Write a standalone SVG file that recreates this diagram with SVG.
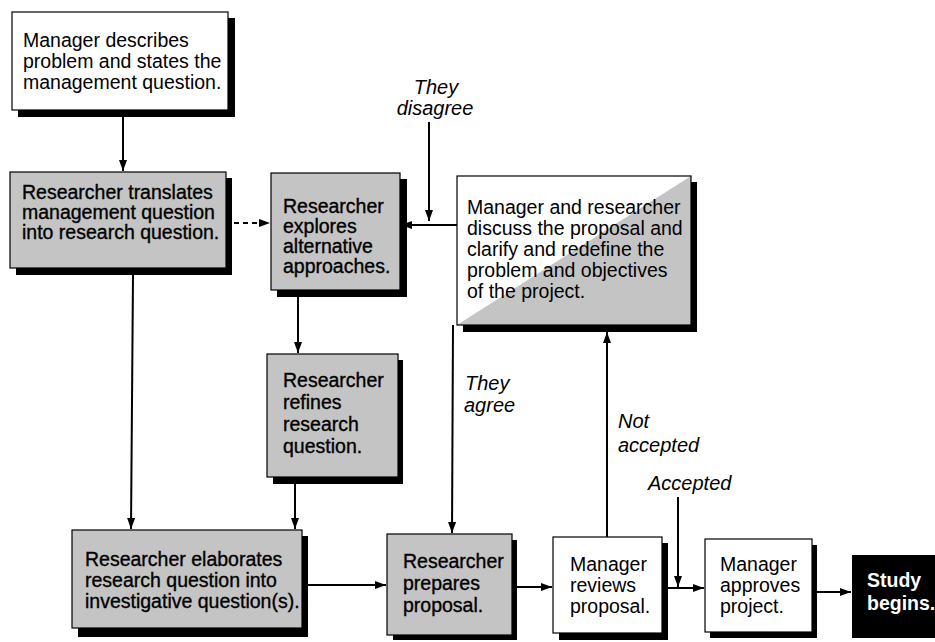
<svg xmlns="http://www.w3.org/2000/svg" width="935" height="642" viewBox="0 0 935 642">
<defs>
<marker id="ah" viewBox="0 0 11 8" refX="11" refY="4" markerWidth="11" markerHeight="8" markerUnits="userSpaceOnUse" orient="auto">
<path d="M0,0 L11,4 L0,8 Z" fill="#000"/>
</marker>
</defs>
<style>
.box{stroke:#000;stroke-width:1.2}
.w{fill:#fff}
.g{fill:#c4c4c4}
.sh{fill:#000}
text{font-family:"Liberation Sans",Arial,sans-serif;font-size:19.5px;fill:#000}
.gt{stroke:#000;stroke-width:0.35}
.lbl{font-style:italic;font-size:20px}
.bw{fill:#fff;font-weight:bold}
.c line{stroke:#000;stroke-width:2;fill:none}
.dash{stroke-dasharray:5 4}
</style>
<rect width="935" height="642" fill="#fff"/>

<g id="n1">
<rect class="sh" x="18" y="18" width="217" height="99"/>
<rect class="box w" x="12" y="12" width="216" height="98"/>
<text x="23" y="47">Manager describes</text>
<text x="23" y="68">problem and states the</text>
<text x="23" y="89">management question.</text>
</g>

<g id="n2">
<rect class="sh" x="16" y="178" width="216" height="97"/>
<rect class="box g" x="10" y="172" width="216" height="96"/>
<text class="gt" x="22" y="199">Researcher translates</text>
<text class="gt" x="22" y="219">management question</text>
<text class="gt" x="22" y="239">into research question.</text>
</g>

<g id="n3">
<rect class="sh" x="277" y="179" width="130" height="118"/>
<rect class="box g" x="271" y="173" width="129" height="117"/>
<text class="gt" x="283" y="213">Researcher</text>
<text class="gt" x="283" y="233">explores</text>
<text class="gt" x="283" y="253">alternative</text>
<text class="gt" x="283" y="273">approaches.</text>
</g>

<g id="n4">
<rect class="sh" x="463" y="182" width="234" height="150"/>
<rect class="w" x="457" y="176" width="234" height="149"/>
<polygon class="g" points="457,325 691,176 691,325"/>
<rect class="box" x="457" y="176" width="234" height="149" fill="none"/>
<text x="467" y="214">Manager and researcher</text>
<text x="467" y="235">discuss the proposal and</text>
<text x="467" y="256">clarify and redefine the</text>
<text x="467" y="277">problem and objectives</text>
<text x="467" y="298">of the project.</text>
</g>

<g id="n5">
<rect class="sh" x="273" y="360" width="130" height="124"/>
<rect class="box g" x="267" y="354" width="131" height="123"/>
<text class="gt" x="283" y="387">Researcher</text>
<text class="gt" x="283" y="409">refines</text>
<text class="gt" x="283" y="431">research</text>
<text class="gt" x="283" y="453">question.</text>
</g>

<g id="n6">
<rect class="sh" x="78" y="536" width="230" height="101"/>
<rect class="box g" x="72" y="530" width="230" height="98"/>
<text class="gt" x="85" y="566">Researcher elaborates</text>
<text class="gt" x="85" y="587">research question into</text>
<text class="gt" x="85" y="608">investigative question(s).</text>
</g>

<g id="n7">
<rect class="sh" x="393" y="540" width="124" height="100"/>
<rect class="box g" x="387" y="534" width="125" height="101"/>
<text class="gt" x="403" y="568">Researcher</text>
<text class="gt" x="403" y="590">prepares</text>
<text class="gt" x="403" y="612">proposal.</text>
</g>

<g id="n8">
<rect class="sh" x="559" y="543" width="109" height="97"/>
<rect class="box w" x="553" y="537" width="109" height="96"/>
<text x="570" y="571">Manager</text>
<text x="570" y="592">reviews</text>
<text x="570" y="613">proposal.</text>
</g>

<g id="n9">
<rect class="sh" x="710" y="545" width="107" height="93"/>
<rect class="box w" x="705" y="539" width="107" height="93"/>
<text x="720" y="571">Manager</text>
<text x="720" y="592">approves</text>
<text x="720" y="613">project.</text>
</g>

<g id="n10">
<rect class="sh" x="852" y="555" width="83" height="83"/>
<text class="bw" x="867" y="587">Study</text>
<text class="bw" x="867" y="610">begins.</text>
</g>

<g id="connectors" class="c">
<line x1="123" y1="117" x2="123" y2="171" marker-end="url(#ah)"/>
<line class="dash" x1="234" y1="223" x2="270" y2="223" marker-end="url(#ah)"/>
<line x1="457" y1="225" x2="401" y2="225" marker-end="url(#ah)"/>
<line x1="429" y1="122" x2="429" y2="221" marker-end="url(#ah)"/>
<line x1="298" y1="297" x2="298" y2="353" marker-end="url(#ah)"/>
<line x1="295" y1="484" x2="295" y2="529" marker-end="url(#ah)"/>
<line x1="133" y1="275" x2="131" y2="529" marker-end="url(#ah)"/>
<line x1="308" y1="585" x2="386" y2="585" marker-end="url(#ah)"/>
<line x1="453" y1="325" x2="452" y2="533" marker-end="url(#ah)"/>
<line x1="517" y1="587" x2="552" y2="587" marker-end="url(#ah)"/>
<line x1="607" y1="537" x2="607" y2="332" marker-end="url(#ah)"/>
<line x1="668" y1="588" x2="704" y2="588" marker-end="url(#ah)"/>
<line x1="678" y1="497" x2="678" y2="587" marker-end="url(#ah)"/>
<line x1="817" y1="592" x2="851" y2="592" marker-end="url(#ah)"/>
</g>

<g id="labels">
<text class="lbl" x="436" y="94" text-anchor="middle">They</text>
<text class="lbl" x="435" y="115" text-anchor="middle">disagree</text>
<text class="lbl" x="465" y="390">They</text>
<text class="lbl" x="464" y="412">agree</text>
<text class="lbl" x="618" y="428">Not</text>
<text class="lbl" x="618" y="452">accepted</text>
<text class="lbl" x="648" y="490">Accepted</text>
</g>
</svg>
